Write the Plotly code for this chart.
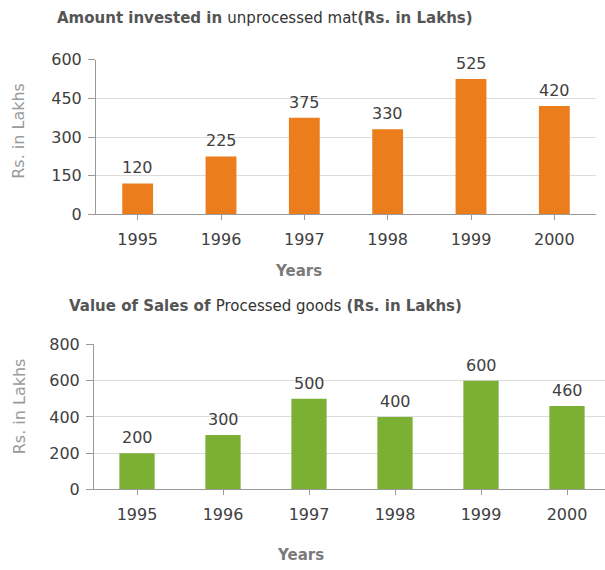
import plotly.graph_objects as go

years = ["1995", "1996", "1997", "1998", "1999", "2000"]
invested = [120, 225, 375, 330, 525, 420]
sales = [200, 300, 500, 400, 600, 460]
top_ticks = [0, 150, 300, 450, 600]
bottom_ticks = [0, 200, 400, 600, 800]

W, H = 605, 570
FONT = "DejaVu Sans"

fig = go.Figure()

fig.add_trace(go.Bar(
    x=years, y=invested, xaxis="x", yaxis="y",
    marker=dict(color="#EC7D1D", line=dict(width=0)),
    width=0.37, showlegend=False, hoverinfo="x+y",
))
fig.add_trace(go.Bar(
    x=years, y=sales, xaxis="x2", yaxis="y2",
    marker=dict(color="#7BB035", line=dict(width=0)),
    width=0.41, showlegend=False, hoverinfo="x+y",
))

def px_x(p):
    return p / W

def px_y(p):
    return 1 - p / H

label_font = dict(family=FONT, size=16, color="#404040")
annotations = []
for xs, ys, xr, yr in ((years, invested, "x", "y"), (years, sales, "x2", "y2")):
    for i, yv in enumerate(ys):
        annotations.append(dict(
            x=i, y=yv, xref=xr, yref=yr,
            text=str(yv), showarrow=False, yanchor="bottom",
            yshift=4, font=label_font,
        ))

axis_common = dict(
    type="category",
    showline=True, linecolor="#9a9a9a", linewidth=1,
    ticks="outside", tickcolor="#9a9a9a", ticklen=5,
    ticklabelstandoff=5,
    tickfont=dict(family=FONT, size=16, color="#404040"),
)
yaxis_common = dict(
    showline=True, linecolor="#9a9a9a", linewidth=1,
    ticks="outside", tickcolor="#9a9a9a", ticklen=7,
    ticklabelstandoff=3,
    showgrid=True, gridcolor="#dcdcdc", gridwidth=1,
    zeroline=False,
    tickfont=dict(family=FONT, size=16, color="#404040"),
)

title_font = dict(family=FONT, size=15, color="#555555")
ytitle_font = dict(family=FONT, size=16, color="#9a9a9a")
xtitle_font = dict(family=FONT, size=15, color="#7a7a7a")

annotations += [
    dict(text="<b>Amount invested in </b><span style='color:#333333'>unprocessed mat</span><b>(Rs. in Lakhs)</b>",
         x=px_x(265), y=px_y(9), xref="paper", yref="paper",
         xanchor="center", yanchor="middle", showarrow=False, font=title_font),
    dict(text="<b>Value of Sales of </b><span style='color:#333333'>Processed goods</span><b> (Rs. in Lakhs)</b>",
         x=px_x(265), y=px_y(307), xref="paper", yref="paper",
         xanchor="center", yanchor="middle", showarrow=False, font=title_font),
    dict(text="Rs. in Lakhs", textangle=-90,
         x=px_x(19), y=px_y(126), xref="paper", yref="paper",
         xanchor="center", yanchor="middle", showarrow=False, font=ytitle_font),
    dict(text="Rs. in Lakhs", textangle=-90,
         x=px_x(19), y=px_y(411), xref="paper", yref="paper",
         xanchor="center", yanchor="middle", showarrow=False, font=ytitle_font),
    dict(text="<b>Years</b>",
         x=px_x(298), y=px_y(271), xref="paper", yref="paper",
         xanchor="center", yanchor="middle", showarrow=False, font=xtitle_font),
    dict(text="<b>Years</b>",
         x=px_x(300), y=px_y(565), xref="paper", yref="paper",
         xanchor="center", yanchor="middle", showarrow=False, font=xtitle_font),
]

fig.update_layout(
    width=W, height=H,
    margin=dict(l=0, r=0, t=0, b=0),
    paper_bgcolor="white", plot_bgcolor="white",
    font=dict(family=FONT),
    xaxis=dict(domain=[px_x(96), px_x(596)], anchor="y",
               range=[-0.5, 5.5], showgrid=False, **axis_common),
    yaxis=dict(domain=[px_y(212.5), px_y(52.4)], anchor="x",
               range=[0, 600], tickvals=top_ticks, **yaxis_common),
    xaxis2=dict(domain=[px_x(94), 1], anchor="y2",
                range=[-0.5, 5.5 - (610 - 605) / 86], showgrid=False,
                **axis_common),
    yaxis2=dict(domain=[px_y(497), px_y(347)], anchor="x2",
                range=[0, 800], tickvals=bottom_ticks, **yaxis_common),
    annotations=annotations,
)

post = (
    "document.documentElement.style.cssText='margin:0;padding:0;overflow:hidden;';"
    "document.body.style.cssText='margin:0;padding:0;overflow:hidden;';"
    "var gd=document.getElementById('{plot_id}');"
    "gd.style.position='fixed';gd.style.top='0px';gd.style.left='0px';"
)

fig.write_html("out.html", post_script=post, config={"displayModeBar": False})
